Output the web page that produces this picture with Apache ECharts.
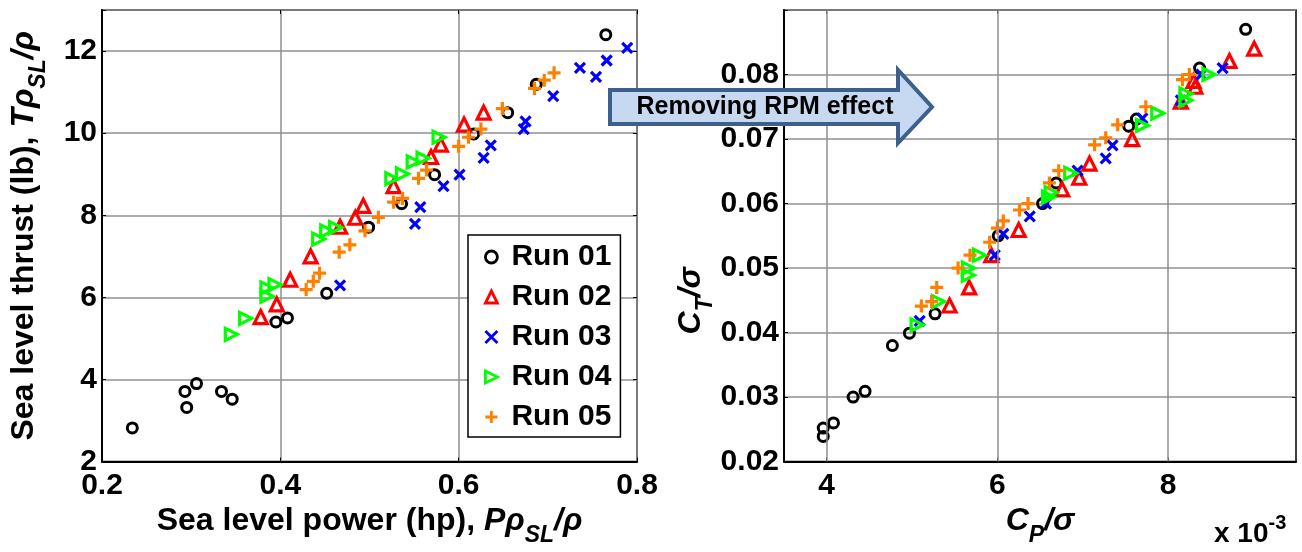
<!DOCTYPE html>
<html>
<head>
<meta charset="utf-8">
<script src="https://cdn.jsdelivr.net/npm/echarts@6/dist/echarts.min.js"></script>
<style>
  html, body { margin: 0; padding: 0; background: #ffffff; }
  #chart { width: 1302px; height: 552px; }
</style>
</head>
<body>
<div id="chart"></div>
<script>
// ---- Left panel: sea-level corrected power (hp) vs thrust (lb) ----
const powerRun01 = [0.234, 0.293, 0.295, 0.306, 0.334, 0.346, 0.395, 0.408, 0.452, 0.499, 0.536, 0.573, 0.617, 0.655, 0.687, 0.765];
const thrustRun01 = [2.82, 3.71, 3.32, 3.90, 3.71, 3.52, 5.40, 5.50, 6.10, 7.71, 8.28, 8.99, 9.98, 10.50, 11.19, 12.40];
const powerRun02 = [0.378, 0.396, 0.411, 0.434, 0.467, 0.484, 0.493, 0.527, 0.569, 0.580, 0.606, 0.628];
const thrustRun02 = [5.52, 5.83, 6.43, 7.00, 7.72, 7.94, 8.23, 8.71, 9.42, 9.72, 10.21, 10.50];
const powerRun03 = [0.467, 0.551, 0.557, 0.583, 0.601, 0.628, 0.636, 0.673, 0.675, 0.706, 0.736, 0.754, 0.766, 0.789];
const thrustRun03 = [6.29, 7.79, 8.20, 8.71, 8.99, 9.40, 9.70, 10.10, 10.29, 10.90, 11.59, 11.37, 11.77, 12.08];
const powerRun04 = [0.345, 0.361, 0.385, 0.385, 0.394, 0.443, 0.452, 0.462, 0.525, 0.537, 0.549, 0.560, 0.578];
const thrustRun04 = [5.10, 5.49, 6.03, 6.23, 6.31, 7.42, 7.62, 7.70, 8.89, 9.01, 9.30, 9.39, 9.90];
const powerRun05 = [0.429, 0.437, 0.444, 0.466, 0.478, 0.495, 0.510, 0.527, 0.537, 0.555, 0.564, 0.600, 0.611, 0.625, 0.649, 0.685, 0.696, 0.707];
const thrustRun05 = [6.19, 6.39, 6.59, 7.10, 7.28, 7.62, 7.95, 8.32, 8.41, 8.90, 9.10, 9.68, 9.90, 10.10, 10.60, 11.09, 11.29, 11.47];

// ---- Right panel: solidity-normalised coefficients, CP/sigma (x 1e-3) vs CT/sigma ----
const cpRun01 = [3.96, 3.96, 4.08, 4.31, 4.45, 4.77, 4.97, 5.27, 6.01, 6.53, 6.69, 7.54, 7.63, 8.37, 8.91];
const ctRun01 = [0.0239, 0.0252, 0.0260, 0.0300, 0.0309, 0.0380, 0.0399, 0.0429, 0.0550, 0.0600, 0.0632, 0.0720, 0.0731, 0.0810, 0.0870];
const cpRun02 = [5.44, 5.67, 5.93, 6.25, 6.76, 6.96, 7.08, 7.58, 8.15, 8.30, 8.32, 8.72, 9.01];
const ctRun02 = [0.0442, 0.0470, 0.0520, 0.0559, 0.0622, 0.0640, 0.0662, 0.0700, 0.0758, 0.0790, 0.0781, 0.0821, 0.0840];
const cpRun03 = [5.09, 5.97, 6.07, 6.38, 6.57, 6.94, 7.27, 7.35, 7.70, 8.15, 8.39, 8.64];
const ctRun03 = [0.0418, 0.0520, 0.0553, 0.0580, 0.0600, 0.0651, 0.0670, 0.0690, 0.0732, 0.0760, 0.0800, 0.0810];
const cpRun04 = [5.06, 5.31, 5.66, 5.66, 5.79, 6.60, 6.63, 6.86, 7.70, 7.88, 8.21, 8.21, 8.48];
const ctRun04 = [0.0412, 0.0448, 0.0489, 0.0500, 0.0520, 0.0610, 0.0617, 0.0647, 0.0721, 0.0740, 0.0760, 0.0770, 0.0800];
const cpRun05 = [5.11, 5.23, 5.29, 5.54, 5.68, 5.91, 6.00, 6.07, 6.26, 6.36, 6.61, 6.72, 7.14, 7.27, 7.41, 7.74, 8.17, 8.25];
const ctRun05 = [0.0441, 0.0448, 0.0470, 0.0500, 0.0520, 0.0540, 0.0562, 0.0573, 0.0590, 0.0600, 0.0632, 0.0651, 0.0691, 0.0702, 0.0722, 0.0750, 0.0792, 0.0800];

// ---- Run names and tick labels ----
const runNames = ['Run 01', 'Run 02', 'Run 03', 'Run 04', 'Run 05'];
const powerTicks = [0.2, 0.4, 0.6, 0.8];
const thrustTicks = [2, 4, 6, 8, 10, 12];
const cpTicks = [4, 6, 8];
const ctTicks = [0.02, 0.03, 0.04, 0.05, 0.06, 0.07, 0.08];

const leftX = [powerRun01, powerRun02, powerRun03, powerRun04, powerRun05];
const leftY = [thrustRun01, thrustRun02, thrustRun03, thrustRun04, thrustRun05];
const rightX = [cpRun01, cpRun02, cpRun03, cpRun04, cpRun05];
const rightY = [ctRun01, ctRun02, ctRun03, ctRun04, ctRun05];

const FONT = '"Liberation Sans", Arial, Helvetica, sans-serif';

// marker look for each run: hollow circle, triangle, cross, right-pointing triangle, plus
const markers = [
  { symbol: 'circle', size: 10, color: '#000000', width: 3 },
  { symbol: 'triangle', size: 13, color: '#ff0000', width: 3.2 },
  { symbol: 'path://M0,0L10,10M10,0L0,10', size: 10, color: '#0000ff', width: 3.2 },
  { symbol: 'path://M0,0L10,5L0,10Z', size: 12, color: '#00ff00', width: 3.2 },
  { symbol: 'path://M5,0L5,10M0,5L10,5', size: 13, color: '#ff8000', width: 3.2 }
];

function pairs(xs, ys) { return xs.map((x, i) => [x, ys[i]]); }

const tickFont = { fontFamily: FONT, fontWeight: 'bold', fontSize: 30, color: '#000' };
const gridLine = { show: true, lineStyle: { color: '#8f8f8f', width: 1.5 } };

function mainAxis(extra) {
  return Object.assign({
    type: 'value',
    axisLine: { show: true, onZero: false, lineStyle: { color: '#000', width: 2 } },
    axisTick: { show: true, inside: true, length: 4, lineStyle: { color: '#000', width: 1 } },
    splitLine: gridLine
  }, extra);
}
function mirrorAxis(extra, ticks) {
  return Object.assign({
    type: 'value',
    axisLine: { show: false },
    axisTick: { show: true, inside: true, length: 4, customValues: ticks, lineStyle: { color: '#000', width: 1 } },
    axisLabel: { show: false },
    splitLine: { show: false }
  }, extra);
}

const titleRich = {
  b: { fontFamily: FONT, fontWeight: 'bold', fontSize: 32, color: '#000' },
  i: { fontFamily: FONT, fontWeight: 'bold', fontStyle: 'italic', fontSize: 32, color: '#000' },
  s: { fontFamily: FONT, fontWeight: 'bold', fontStyle: 'italic', fontSize: 23, color: '#000', padding: [28, 0, 0, 0] }
};

const series = [];
runNames.forEach((name, i) => {
  const m = markers[i];
  const style = { color: 'rgba(0,0,0,0)', borderColor: m.color, borderWidth: m.width, opacity: 1 };
  series.push({
    name: name, type: 'scatter', xAxisIndex: 0, yAxisIndex: 0,
    symbol: m.symbol, symbolSize: m.size, itemStyle: style, z: 3,
    data: pairs(leftX[i], leftY[i])
  });
  series.push({
    name: name, type: 'scatter', xAxisIndex: 2, yAxisIndex: 2,
    symbol: m.symbol, symbolSize: m.size, itemStyle: style, z: 3,
    data: pairs(rightX[i], rightY[i])
  });
});
// vertical grid lines of the right panel at the labelled CP/sigma ticks
series.push({
  name: 'cp-grid', type: 'scatter', xAxisIndex: 2, yAxisIndex: 2, data: [], z: 1, silent: true,
  markLine: {
    silent: true, symbol: 'none', label: { show: false },
    lineStyle: { color: '#8f8f8f', width: 1.5, type: 'solid' },
    animation: false,
    data: cpTicks.map(v => ({ xAxis: v }))
  }
});

const option = {
  animation: false,
  backgroundColor: '#ffffff',
  grid: [
    { left: 102, top: 10, width: 535, height: 460, show: true, borderColor: '#000', borderWidth: 1.5, backgroundColor: 'transparent' },
    { left: 784, top: 10, width: 512, height: 460, show: true, borderColor: '#000', borderWidth: 1.5, backgroundColor: 'transparent' }
  ],
  xAxis: [
    mainAxis({
      gridIndex: 0, position: 'bottom', min: 0.2, max: 0.8, interval: 0.2,
      axisLabel: Object.assign({ margin: 9, customValues: powerTicks, formatter: v => v.toFixed(1) }, tickFont),
      name: '{b|Sea level power (hp), }{i|Pρ}{s|SL}{i|/ρ}',
      nameLocation: 'middle', nameGap: 30,
      nameTextStyle: { rich: titleRich }
    }),
    mirrorAxis({ gridIndex: 0, position: 'top', min: 0.2, max: 0.8 }, powerTicks),
    mainAxis({
      gridIndex: 1, position: 'bottom', min: 3.5, max: 9.5,
      splitLine: { show: false },
      axisTick: { show: true, inside: true, length: 4, customValues: cpTicks, lineStyle: { color: '#000', width: 1 } },
      axisLabel: Object.assign({ margin: 9, customValues: cpTicks }, tickFont),
      name: '{i|C}{s|P}{i|/σ}',
      nameLocation: 'middle', nameGap: 30,
      nameTextStyle: { rich: titleRich }
    }),
    mirrorAxis({ gridIndex: 1, position: 'top', min: 3.5, max: 9.5 }, cpTicks)
  ],
  yAxis: [
    mainAxis({
      gridIndex: 0, position: 'left', min: 2, max: 13, interval: 2,
      axisLabel: Object.assign({ margin: 5, customValues: thrustTicks }, tickFont),
      name: '{b|Sea level thrust (lb), }{i|Tρ}{s|SL}{i|/ρ}',
      nameLocation: 'middle', nameGap: 52,
      nameTextStyle: { rich: titleRich }
    }),
    mirrorAxis({ gridIndex: 0, position: 'right', min: 2, max: 13 }, thrustTicks),
    mainAxis({
      gridIndex: 1, position: 'left', min: 0.02, max: 0.09, interval: 0.01,
      axisLabel: Object.assign({ margin: 5, customValues: ctTicks, formatter: v => v.toFixed(2) }, tickFont),
      name: '{i|C}{s|T}{i|/σ}',
      nameLocation: 'middle', nameGap: 34,
      nameTextStyle: { rich: titleRich, padding: [0, 130, 0, 0] }
    }),
    mirrorAxis({ gridIndex: 1, position: 'right', min: 0.02, max: 0.09 }, ctTicks)
  ],
  legend: {
    left: 468, top: 235, orient: 'vertical',
    padding: [7, 9, 5, 16], itemGap: 10, itemWidth: 12, itemHeight: 12,
    borderColor: '#000', borderWidth: 1.5, backgroundColor: '#ffffff',
    selectedMode: false, z: 10,
    textStyle: { fontFamily: FONT, fontWeight: 'bold', fontSize: 30, lineHeight: 30, color: '#000', padding: [0, 0, 0, 9] },
    data: runNames.map((n, i) => ({
      name: n, icon: markers[i].symbol,
      itemStyle: { color: 'rgba(0,0,0,0)', borderColor: markers[i].color, borderWidth: 2.8, opacity: 1 }
    }))
  },
  graphic: [
    {
      type: 'polygon', z: 20,
      shape: { points: [[610, 90], [898, 90], [898, 70], [932, 107], [898, 143], [898, 124], [610, 124]] },
      style: { fill: '#c6d9f1', stroke: '#3c5f8d', lineWidth: 4, lineJoin: 'miter' }
    },
    {
      type: 'text', z: 21,
      style: { text: 'Removing RPM effect', x: 765, y: 107, align: 'center', verticalAlign: 'middle',
               fontFamily: FONT, fontWeight: 'bold', fontSize: 25, fill: '#000' }
    },
    {
      type: 'text', z: 21,
      style: {
        text: '{b|x 10}{s|-3}', x: 1214, y: 534, verticalAlign: 'middle',
        rich: {
          b: { fontFamily: FONT, fontWeight: 'bold', fontSize: 28, fill: '#000' },
          s: { fontFamily: FONT, fontWeight: 'bold', fontSize: 20, fill: '#000', padding: [0, 0, 22, 0] }
        }
      }
    }
  ],
  series: series
};

const chart = echarts.init(document.getElementById('chart'), null, { renderer: 'canvas' });
chart.setOption(option);
</script>
</body>
</html>
